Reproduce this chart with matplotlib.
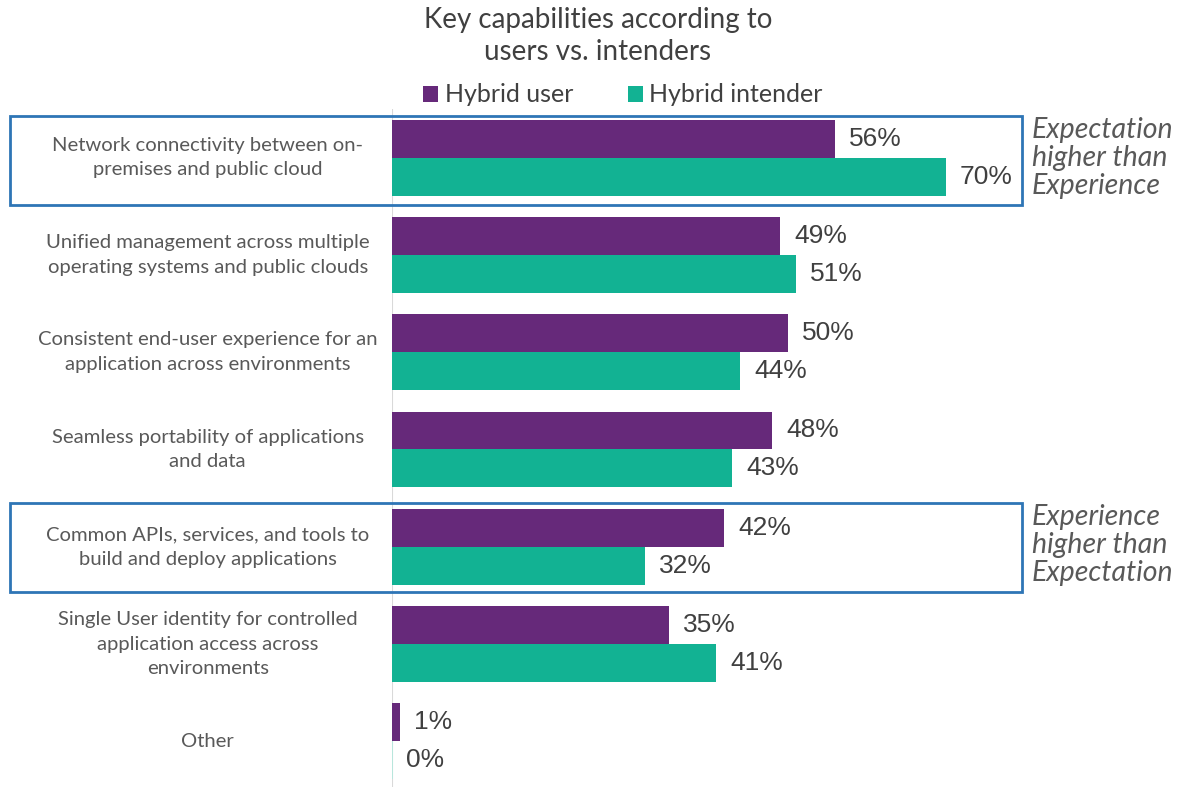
import numpy as np
import matplotlib.pyplot as plt
from matplotlib.patches import Rectangle

# data
categories = [
    "Network connectivity between on-\npremises and public cloud",
    "Unified management across multiple\noperating systems and public clouds",
    "Consistent end-user experience for an\napplication across environments",
    "Seamless portability of applications\nand data",
    "Common APIs, services, and tools to\nbuild and deploy applications",
    "Single User identity for controlled\napplication access across\nenvironments",
    "Other",
]
hybrid_user = [56, 49, 50, 48, 42, 35, 1]
hybrid_intender = [70, 51, 44, 43, 32, 41, 0]

purple = '#66297a'
teal = '#12b293'
box_blue = '#2e75b6'
grey_txt = '#595959'

W, H = 1200, 787
fig = plt.figure(figsize=(12, 7.87), dpi=100)
ax = fig.add_axes([392 / W, 0, (1025 - 392) / W, 1 - 109 / H])

y = np.arange(len(categories))
bh = 0.39
ax.barh(y - bh / 2, hybrid_user, height=bh, color=purple, label='Hybrid user')
ax.barh(y + bh / 2, hybrid_intender, height=bh, color=teal, label='Hybrid intender')
# tiny marker so the 0% bar still shows
ax.barh(y[-1] + bh / 2, 0.15, height=bh, color='#b8e6dc')

ax.set_xlim(0, 80)
ax.set_ylim(6.47, -0.5)
for s in ax.spines.values():
    s.set_visible(False)
ax.axvline(0, color='#d9d9d9', lw=1.5, zorder=0)
ax.set_xticks([])
ax.set_yticks([])

for i in range(len(categories)):
    ax.text(hybrid_user[i] + 1.8, y[i] - bh / 2, f"{hybrid_user[i]}%", va='center', ha='left',
            fontsize=19, color='#404040', family='Liberation Sans')
    ax.text(hybrid_intender[i] + 1.8, y[i] + bh / 2, f"{hybrid_intender[i]}%", va='center', ha='left',
            fontsize=19, color='#404040', family='Liberation Sans')
    ax.text(-23.3, y[i], categories[i], ha='center', va='center', fontsize=14.6,
            color=grey_txt, family='Lato', linespacing=1.55,
            transform=ax.transData, clip_on=False)

# title and legend
fig.text(598 / W, 1 - 36 / H, "Key capabilities according to\nusers vs. intenders", ha='center', va='center',
         fontsize=20, color='#404040', family='Lato', linespacing=1.25)
fig.legend(loc='center', bbox_to_anchor=(623 / W, 1 - 95 / H), ncol=2, frameon=False,
           prop={'family': 'Lato', 'size': 18}, labelcolor='#404040', handlelength=0.6,
           handleheight=0.6, handletextpad=0.25, columnspacing=2.2)

# highlight boxes
for top, txt in [(116, "Expectation\nhigher than\nExperience"), (503, "Experience\nhigher than\nExpectation")]:
    fig.add_artist(Rectangle((10 / W, 1 - (top + 89) / H), 1012 / W, 89 / H, transform=fig.transFigure,
                             fill=False, edgecolor=box_blue, lw=2))
    fig.text(1032 / W, 1 - (top + 42) / H, txt, ha='left', va='center', fontsize=20.5, style='italic',
             color=grey_txt, family='Lato', linespacing=1.1)

fig.savefig('out.png', dpi=100)
